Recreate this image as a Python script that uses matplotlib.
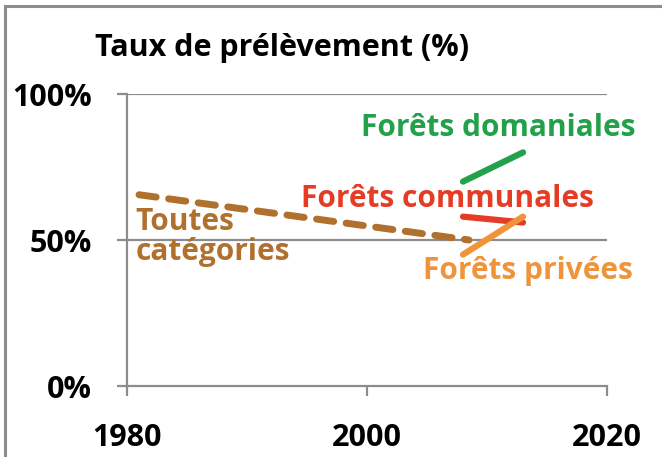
import matplotlib.pyplot as plt
from matplotlib.lines import Line2D

# Taux de prélèvement (%) par catégorie de forêts
annees_toutes = [1981, 2008.5]
toutes = [65.5, 50]
annees_recentes = [2008, 2013]
domaniales = [70, 80]
communales = [58, 56]
privees = [45, 58]

x_ticks = [1980, 2000, 2020]
y_ticks = [0, 50, 100]
y_labels = ['0%', '50%', '100%']

brun = '#b0712e'
vert = '#22a04a'
rouge = '#e63b25'
orange = '#f0943c'
gris = '#8c8c8c'

plt.rcParams['font.family'] = ['Open Sans', 'DejaVu Sans']

fig = plt.figure(figsize=(6.62, 4.57), dpi=100)
ax = fig.add_axes([127 / 662, 1 - 386 / 457, 480 / 662, 292 / 457])

# Lignes horizontales de la grille
for v in [50, 100]:
    ax.axhline(v, color=gris, lw=1.6, zorder=1)

ax.plot(annees_toutes, toutes, color=brun, lw=5, dashes=(2.5, 1.8),
        dash_capstyle='round', solid_capstyle='round', zorder=3)
ax.plot(annees_recentes, domaniales, color=vert, lw=4.5, solid_capstyle='round', zorder=3)
ax.plot(annees_recentes, communales, color=rouge, lw=4.5, solid_capstyle='round', zorder=3)
ax.plot(annees_recentes, privees, color=orange, lw=4.5, solid_capstyle='round', zorder=4)

ax.set_xlim(1980, 2020)
ax.set_ylim(0, 100)
ax.set_xticks(x_ticks)
ax.set_xticklabels([str(a) for a in x_ticks], fontsize=22, fontweight='bold')
ax.set_yticks(y_ticks)
ax.set_yticklabels(y_labels, fontsize=22, fontweight='bold')
ax.tick_params(axis='both', colors=gris, labelcolor='black', length=7, width=1.6)
ax.tick_params(axis='y', pad=18)
ax.tick_params(axis='x', pad=20)
for s in ['top', 'right']:
    ax.spines[s].set_visible(False)
for s in ['left', 'bottom']:
    ax.spines[s].set_color(gris)
    ax.spines[s].set_linewidth(1.6)

# Étiquettes des séries
ax.text(2010.9, 88.4, 'Forêts domaniales', color=vert, fontsize=21.5, fontweight='bold',
        ha='center', va='center')
ax.text(2006.7, 64, 'Forêts communales', color=rouge, fontsize=21.5, fontweight='bold',
        ha='center', va='center')
ax.text(2013.4, 39.4, 'Forêts privées', color=orange, fontsize=21.5, fontweight='bold',
        ha='center', va='center', clip_on=False)
ax.text(1980.7, 50.9, 'Toutes\ncatégories', color=brun, fontsize=21.5, fontweight='bold',
        ha='left', va='center', linespacing=1.0)

fig.text(95 / 662, 1 - 48 / 457, 'Taux de prélèvement (%)', fontsize=22,
         fontweight='bold', ha='left', va='center')

# Cadre (bords haut et gauche)
fig.add_artist(Line2D([5 / 662, 5 / 662], [0, 1 - 6 / 457], color=gris, lw=2.2,
                      transform=fig.transFigure))
fig.add_artist(Line2D([5 / 662, 1], [1 - 6 / 457, 1 - 6 / 457], color=gris, lw=2.2,
                      transform=fig.transFigure))

fig.savefig('out.png', dpi=100)
